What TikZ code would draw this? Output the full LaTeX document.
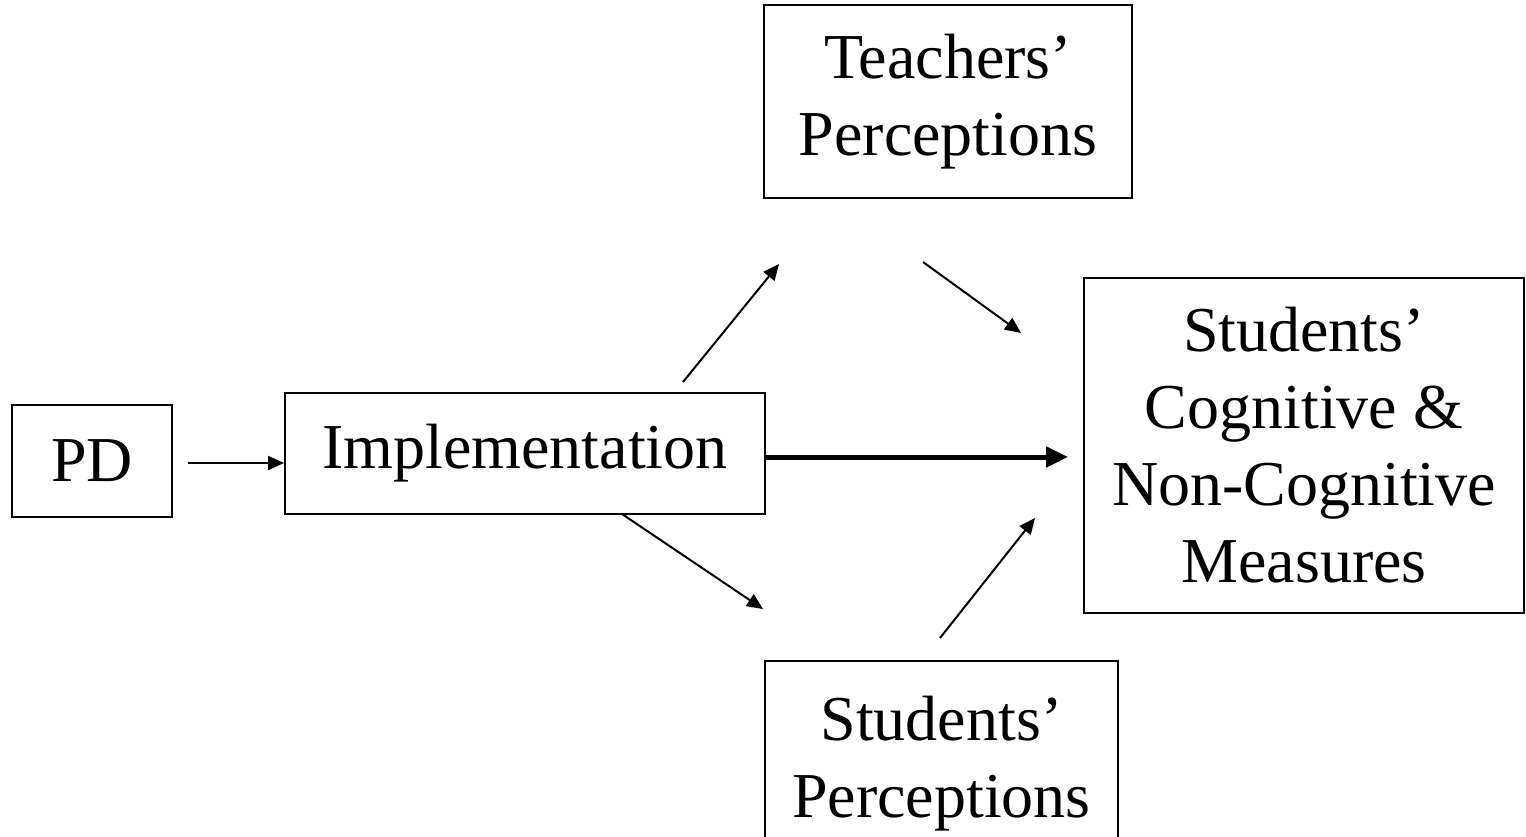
\documentclass[tikz,border=0pt]{standalone}
\usepackage{fontspec}
\setmainfont{Liberation Serif}
\usetikzlibrary{shapes,arrows.meta,positioning}

\begin{document}
\begin{tikzpicture}[% one unit = one pixel of the page
				x=0.5pt,y=-0.5pt,
				every node/.style={
					align=center,  		% so that "\\" breaks the line
					inner sep=0pt,
					font=\fontsize{32}{38.5}\selectfont
				},
				box/.style={rectangle,draw=black,line width=1pt},
				every edge/.style={draw,line width=1pt,-{Triangle[length=8pt,width=7pt]}}
			]
			\useasboundingbox (0,0) rectangle (1526,836);
			\node[box,minimum width=80pt,minimum height=56pt](PD) at (92,461){PD};
			\node[box,minimum width=240pt,minimum height=60.5pt](Impl) at (525,453.5){Implementation};
			\node[box,minimum width=184pt,minimum height=96.5pt](TP) at (948,101.5){Teachers'\\Perceptions};
			\node[box,minimum width=176.5pt,minimum height=102.5pt](SP) at (941.5,763.5){Students'\\Perceptions};
			\node[box,minimum width=220pt,minimum height=167.5pt](SO) at (1304,445.5){Students'\\Cognitive \&\\Non-Cognitive\\Measures};
			% free ends of the arrows
			\coordinate (A1) at (188,463);
			\coordinate (A2) at (1068,457);
			\coordinate (A3) at (683,382);
			\coordinate (A4) at (779,264);
			\coordinate (A5) at (923,262);
			\coordinate (A6) at (1021,333);
			\coordinate (A7) at (622,514);
			\coordinate (A8) at (763,609);
			\coordinate (A9) at (940,638);
			\coordinate (A10) at (1035,518);
			\path
			(A1)edge []	(A1 -| Impl.west)
			(A2 -| Impl.east)edge [line width=2.5pt,-{Triangle[length=11pt,width=10pt]}]	(A2)
			(A3)edge []	(A4)
			(A5)edge []	(A6)
			(A7)edge []	(A8)
			(A9)edge []	(A10)
			;
		\end{tikzpicture}
\end{document}
